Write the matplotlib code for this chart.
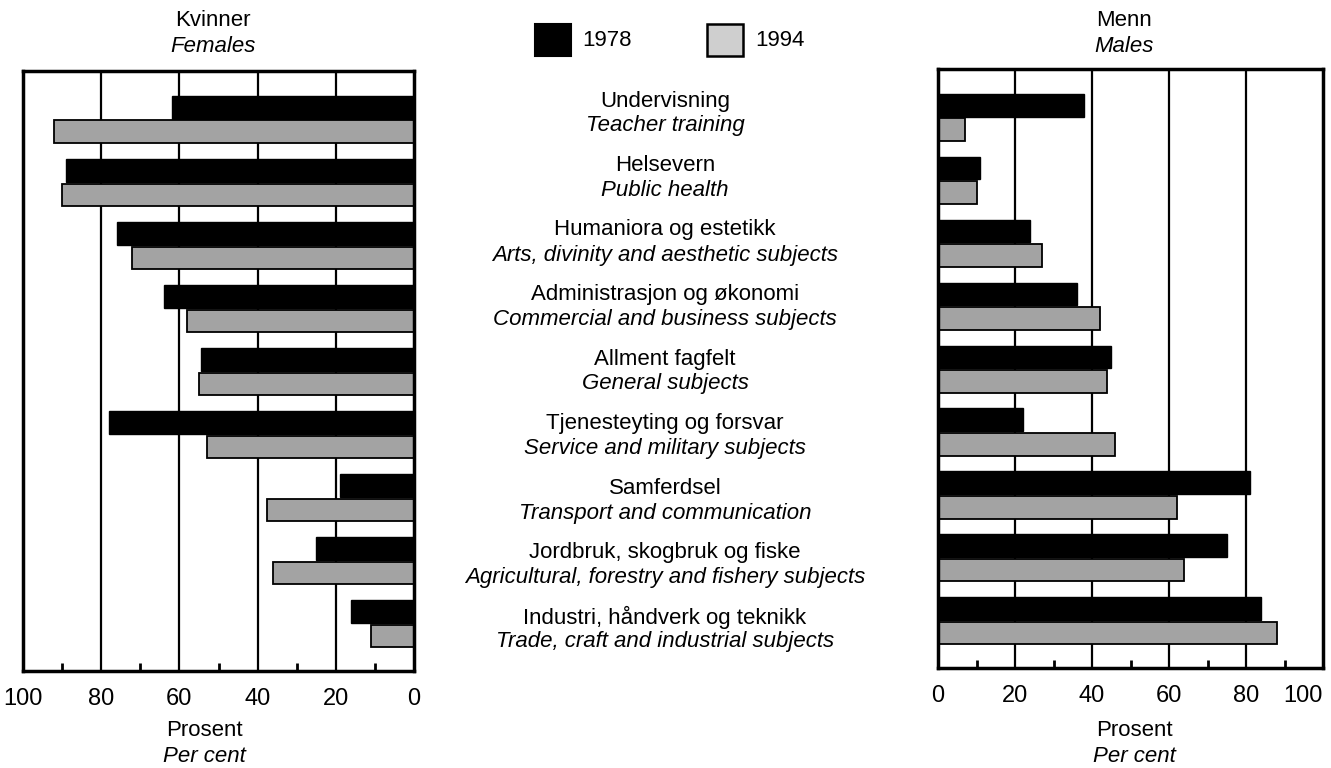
import matplotlib
matplotlib.use("Agg")
import matplotlib.pyplot as plt
import numpy as np
from matplotlib.patches import Rectangle

plt.rcParams['font.family'] = ['Liberation Sans Narrow', 'Liberation Sans', 'DejaVu Sans']

categories_no = ["Undervisning", "Helsevern", "Humaniora og estetikk",
                 "Administrasjon og økonomi", "Allment fagfelt",
                 "Tjenesteyting og forsvar", "Samferdsel",
                 "Jordbruk, skogbruk og fiske", "Industri, håndverk og teknikk"]
categories_en = ["Teacher training", "Public health", "Arts, divinity and aesthetic subjects",
                 "Commercial and business subjects", "General subjects",
                 "Service and military subjects", "Transport and communication",
                 "Agricultural, forestry and fishery subjects",
                 "Trade, craft and industrial subjects"]

females_1978 = [62, 89, 76, 64, 54.5, 78, 19, 25, 16]
females_1994 = [92, 90, 72, 58, 55, 53, 37.5, 36, 11]
males_1978 = [38, 11, 24, 36, 45, 22, 81, 75, 84]
males_1994 = [7, 10, 27, 42, 44, 46, 62, 64, 88]

xticks = [0, 20, 40, 60, 80, 100]
minor_ticks = [10, 30, 50, 70, 90]

W, H = 1331, 768
fig = plt.figure(figsize=(W / 100, H / 100), dpi=100)

BLACK = '#000000'
GRAY = '#a3a3a3'
FS = 16

def fx(px):
    return px / W

def fy(py):
    return 1 - py / H

y = np.arange(len(categories_no))
h = 0.36
off = 0.195
ylim = (8.75, -0.77)

def setup(ax, inverted):
    ax.set_xlim(100, 0) if inverted else ax.set_xlim(0, 100)
    ax.set_ylim(*ylim)
    ax.set_yticks([])
    ax.set_xticks(xticks)
    ax.set_xticklabels([str(t) for t in xticks], fontsize=17)
    ax.set_xticks(minor_ticks, minor=True)
    ax.tick_params(axis='x', which='major', length=0, pad=12)
    ax.tick_params(axis='x', which='minor', direction='in', length=6, width=2)
    for s in ax.spines.values():
        s.set_linewidth(2.5)
    for g in [20, 40, 60, 80]:
        ax.axvline(g, color='black', lw=1.6, zorder=0)

# left panel (females)
axL = fig.add_axes([fx(23), fy(671), fx(414 - 23), (671 - 71) / H])
setup(axL, True)
axL.barh(y - off, females_1978, height=h, color=BLACK, edgecolor=BLACK, zorder=2)
axL.barh(y + off, females_1994, height=h, color=GRAY, edgecolor=BLACK, linewidth=1.3, zorder=2)

# right panel (males)
axR = fig.add_axes([fx(938), fy(668), fx(1323 - 938), (668 - 69) / H])
setup(axR, False)
axR.barh(y - off, males_1978, height=h, color=BLACK, edgecolor=BLACK, zorder=2)
axR.barh(y + off, males_1994, height=h, color=GRAY, edgecolor=BLACK, linewidth=1.3, zorder=2)
axR.get_xticklabels()[-1].set_horizontalalignment('right')
fig.canvas.draw()
lbl = axR.get_xticklabels()[-1]
lbl.set_horizontalalignment('right')

# center labels (own vertical spacing, in pixels from top)
for i in y:
    top = 101 + 64.5 * i
    fig.text(fx(665), fy(top), categories_no[i], ha='center', va='center', fontsize=FS)
    fig.text(fx(665), fy(top + 25), categories_en[i], ha='center', va='center',
             fontsize=FS, style='italic')

# panel titles
fig.text(fx(213), fy(20), "Kvinner", ha='center', va='center', fontsize=FS)
fig.text(fx(213), fy(47), "Females", ha='center', va='center', fontsize=FS, style='italic')
fig.text(fx(1124), fy(20), "Menn", ha='center', va='center', fontsize=FS)
fig.text(fx(1124), fy(47), "Males", ha='center', va='center', fontsize=FS, style='italic')

# axis titles
fig.text(fx(204), fy(730), "Prosent", ha='center', va='center', fontsize=FS)
fig.text(fx(204), fy(757), "Per cent", ha='center', va='center', fontsize=FS, style='italic')
fig.text(fx(1134), fy(730), "Prosent", ha='center', va='center', fontsize=FS)
fig.text(fx(1134), fy(757), "Per cent", ha='center', va='center', fontsize=FS, style='italic')

# legend
fig.patches.append(Rectangle((fx(535), fy(56)), fx(36), 32 / H, transform=fig.transFigure,
                             facecolor=BLACK, edgecolor=BLACK, lw=1.5))
fig.text(fx(582), fy(41), "1978", ha='left', va='center', fontsize=FS)
fig.patches.append(Rectangle((fx(707), fy(56)), fx(36), 32 / H, transform=fig.transFigure,
                             facecolor='#cfcfcf', edgecolor=BLACK, lw=1.8))
fig.text(fx(755), fy(41), "1994", ha='left', va='center', fontsize=FS)

fig.savefig("out.png", dpi=100)
